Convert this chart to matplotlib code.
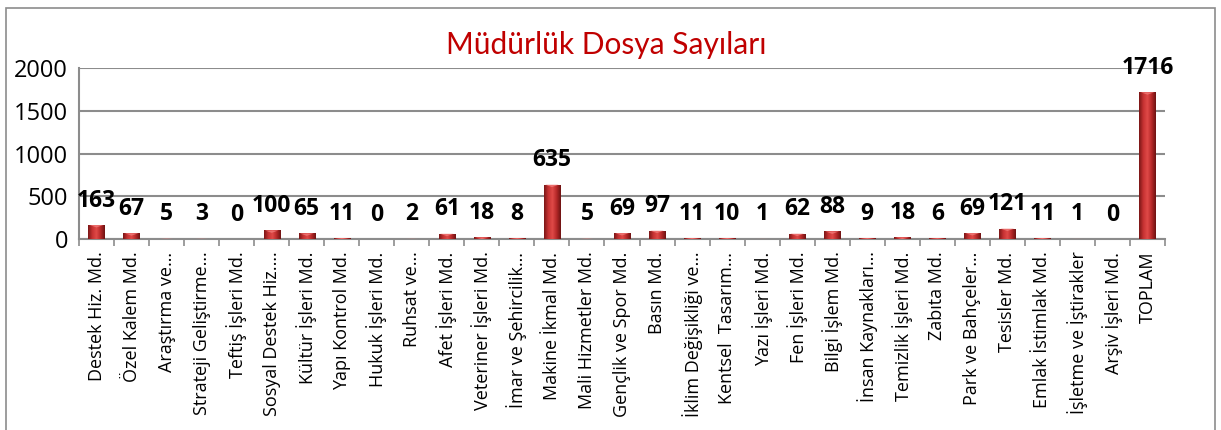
import matplotlib
matplotlib.use("Agg")
import matplotlib.pyplot as plt
import numpy as np
from matplotlib.colors import LinearSegmentedColormap
from matplotlib.patches import Rectangle

labels = ["Destek Hiz. Md.", "Özel Kalem Md.", "Araştırma ve…", "Strateji Geliştirme…",
          "Teftiş İşleri Md.", "Sosyal Destek Hiz.…", "Kültür İşleri Md.", "Yapı Kontrol Md.",
          "Hukuk İşleri Md.", "Ruhsat ve…", "Afet İşleri Md.", "Veteriner İşleri Md.",
          "İmar ve Şehircilik…", "Makine İkmal Md.", "Mali Hizmetler Md.", "Gençlik ve Spor Md.",
          "Basın Md.", "İklim Değişikliği ve…", "Kentsel  Tasarım…", "Yazı İşleri Md.",
          "Fen İşleri Md.", "Bilgi İşlem Md.", "İnsan Kaynakları…", "Temizlik İşleri Md.",
          "Zabıta Md.", "Park ve Bahçeler…", "Tesisler Md.", "Emlak İstimlak Md.",
          "İşletme ve İştirakler", "Arşiv İşleri Md.", "TOPLAM"]
values = [163, 67, 5, 3, 0, 100, 65, 11, 0, 2, 61, 18, 8, 635, 5, 69,
          97, 11, 10, 1, 62, 88, 9, 18, 6, 69, 121, 11, 1, 0, 1716]
yticks = [0, 500, 1000, 1500, 2000]

fig = plt.figure(figsize=(12.21, 4.30), dpi=100)
ax = fig.add_axes([79 / 1221, 1 - 239 / 430, (1165 - 79) / 1221, (239 - 68) / 430])

# outer frame of the chart area
fig.patches.append(Rectangle((6 / 1221, -0.1), (1215 - 6) / 1221, 1.1 - 8 / 430,
                             transform=fig.transFigure, fill=False,
                             edgecolor="#8c8c8c", linewidth=1.2))

x = np.arange(len(values))
w = 0.46
bars = ax.bar(x, values, width=w, color="none", edgecolor="none", zorder=3)

# horizontal shading to give the columns a rounded look
cmap = LinearSegmentedColormap.from_list("col", ["#7a1616", "#c63232", "#e04a48", "#b52828", "#6e1212"])
grad = np.linspace(0, 1, 64).reshape(1, -1)
for b in bars:
    h = b.get_height()
    if h <= 0:
        continue
    x0 = b.get_x()
    im = ax.imshow(grad, cmap=cmap, aspect="auto", extent=(x0, x0 + w, 0, h), zorder=3)
    im.set_clip_path(b)
    cap = min(h, 28)
    ax.fill([x0 + 0.04, x0 + w - 0.04, x0 + w / 2], [h, h, h - cap],
            color="#f07a78", alpha=0.8, zorder=4, linewidth=0)

for xi, v in zip(x, values):
    ax.annotate(str(v), (xi, v), xytext=(0, 9), textcoords="offset points",
                ha="center", va="bottom", fontsize=16.5, fontweight="bold",
                family=["Open Sans", "DejaVu Sans"], color="black", zorder=5)

ax.set_xlim(-0.5, len(values) - 0.5)
ax.set_ylim(0, 2000)
ax.set_yticks(yticks)
ax.set_yticklabels([str(t) for t in yticks], fontsize=17, family=["Open Sans", "DejaVu Sans"])
ax.grid(axis="y", color="#8c8c8c", linewidth=1.5, zorder=0)
ax.set_axisbelow(True)

ax.set_xticks(x)
ax.set_xticklabels(labels, rotation=90, fontsize=13, family=["Open Sans", "DejaVu Sans"], va="top")
ax.tick_params(axis="x", length=0, pad=9)
ax.set_xticks(np.arange(len(values) + 1) - 0.5, minor=True)
ax.tick_params(axis="x", which="minor", length=5, color="#8c8c8c", width=1.2)
ax.tick_params(axis="y", length=0, pad=8)

for s in ["top", "right"]:
    ax.spines[s].set_visible(False)
ax.spines["left"].set_color("#8c8c8c")
ax.spines["left"].set_linewidth(1.5)
ax.spines["bottom"].set_color("#8c8c8c")
ax.spines["bottom"].set_linewidth(1.5)

fig.text(606 / 1221, 1 - 45 / 430, "Müdürlük Dosya Sayıları", ha="center", va="center",
         fontsize=21.5, color="#c00000", family=["Lato", "DejaVu Sans"])

fig.savefig("out.png", dpi=100)
